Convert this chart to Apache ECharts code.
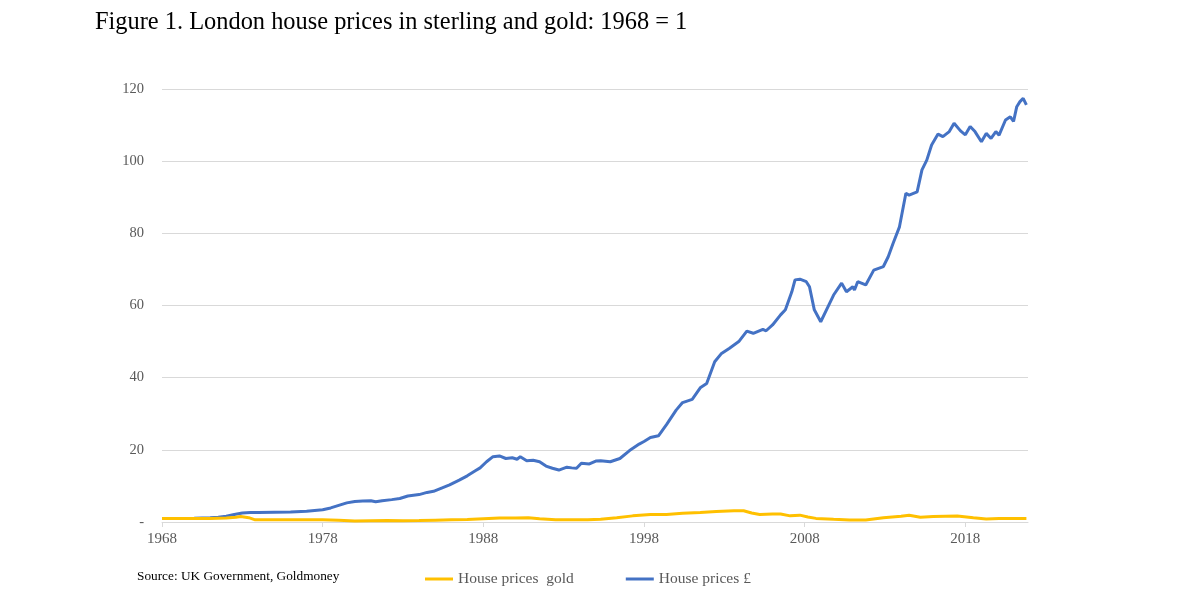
<!DOCTYPE html>
<html>
<head>
<meta charset="utf-8">
<script src="https://cdn.jsdelivr.net/npm/echarts@6/dist/echarts.min.js"></script>
<style>
  html, body { margin: 0; padding: 0; background: #fff; }
  #chart { width: 1200px; height: 593px; }
</style>
</head>
<body>
<div id="chart"></div>
<script>
// house prices in sterling, 1968 = 1
var sterlingYears = [1968.0, 1969.0, 1970.0, 1971.0, 1971.5, 1972.0, 1972.5, 1973.0, 1973.5, 1974.0, 1975.0, 1976.0, 1977.0,
  1978.0, 1978.5, 1979.0, 1979.5, 1980.0, 1980.5, 1981.0, 1981.3, 1981.7, 1982.3, 1982.8, 1983.3, 1984.0, 1984.5, 1984.9,
  1985.4, 1985.9, 1986.5, 1987.0, 1987.5, 1987.8, 1988.2, 1988.6, 1989.0, 1989.4, 1989.8, 1990.1, 1990.3, 1990.7, 1991.1,
  1991.5, 1991.9, 1992.3, 1992.7, 1993.2, 1993.5, 1993.8, 1994.1, 1994.6, 1995.0, 1995.3, 1995.9, 1996.5, 1997.1, 1997.7,
  1998.0, 1998.4, 1998.9, 1999.4, 2000.0, 2000.4, 2001.0, 2001.5, 2001.9, 2002.4, 2002.8, 2003.3, 2003.9, 2004.4, 2004.8,
  2005.4, 2005.6, 2006.0, 2006.5, 2006.8, 2007.2, 2007.4, 2007.7, 2008.1, 2008.3, 2008.6, 2009.0, 2009.5, 2009.8, 2010.3,
  2010.6, 2011.0, 2011.1, 2011.3, 2011.8, 2012.3, 2012.9, 2013.2, 2013.5, 2013.9, 2014.3, 2014.5, 2015.0, 2015.3, 2015.6,
  2015.9, 2016.3, 2016.6, 2017.0, 2017.3, 2017.7, 2018.0, 2018.3, 2018.6, 2019.0, 2019.3, 2019.6, 2019.9, 2020.1, 2020.5,
  2020.8, 2021.0, 2021.2, 2021.4, 2021.6, 2021.8];
var sterlingValues = [1.0, 1.0, 1.05, 1.15, 1.3, 1.6, 2.1, 2.5, 2.6, 2.6, 2.7, 2.8, 3.0,
  3.4, 3.9, 4.6, 5.3, 5.7, 5.8, 5.9, 5.6, 5.9, 6.2, 6.5, 7.2, 7.6, 8.2, 8.5,
  9.4, 10.3, 11.6, 12.8, 14.2, 15.0, 16.7, 18.1, 18.3, 17.6, 17.8, 17.4, 18.1, 17.0, 17.1,
  16.7, 15.5, 14.9, 14.4, 15.2, 15.0, 14.9, 16.3, 16.1, 16.9, 17.0, 16.7, 17.6, 19.8, 21.6,
  22.3, 23.4, 23.9, 27.0, 31.0, 33.1, 34.0, 37.2, 38.4, 44.4, 46.6, 48.1, 50.0, 52.9, 52.3,
  53.4, 53.0, 54.6, 57.4, 58.8, 63.8, 67.1, 67.3, 66.6, 65.2, 58.8, 55.5, 60.1, 62.9, 66.2,
  63.8, 65.2, 64.3, 66.6, 65.7, 69.8, 70.8, 73.5, 77.2, 81.8, 91.1, 90.6, 91.5, 97.6, 100.3,
  104.5, 107.5, 106.8, 108.2, 110.5, 108.4, 107.3, 109.6, 108.2, 105.4, 107.7, 106.3, 108.2, 107.2, 111.4,
  112.3, 111.0, 115.1, 116.5, 117.4, 115.6];

// house prices in gold, 1968 = 1
var goldYears = [1968.0, 1970.0, 1971.0, 1972.0, 1972.6, 1972.9, 1973.4, 1973.8, 1975.0, 1976.5, 1978.0, 1979.0, 1980.0,
  1981.0, 1982.0, 1983.0, 1984.0, 1985.0, 1986.0, 1987.0, 1988.0, 1989.0, 1990.0, 1990.8, 1991.5, 1992.5, 1993.5, 1994.5,
  1995.3, 1996.3, 1997.3, 1998.4, 1999.4, 2000.4, 2001.5, 2002.5, 2003.6, 2004.2, 2004.7, 2005.2, 2006.0, 2006.5, 2007.1,
  2007.7, 2008.2, 2008.7, 2009.8, 2010.8, 2011.8, 2012.9, 2014.0, 2014.5, 2015.2, 2016.0, 2017.5, 2018.5, 2019.3, 2020.1,
  2021.0, 2021.8];
var goldValues = [1.0, 1.0, 1.0, 1.1, 1.3, 1.5, 1.2, 0.6, 0.6, 0.65, 0.6, 0.5, 0.3,
  0.35, 0.4, 0.35, 0.4, 0.5, 0.6, 0.7, 0.9, 1.1, 1.1, 1.2, 0.9, 0.6, 0.6, 0.65,
  0.75, 1.2, 1.7, 2.1, 2.1, 2.4, 2.6, 2.9, 3.1, 3.1, 2.5, 2.1, 2.2, 2.2, 1.7,
  1.9, 1.4, 1.0, 0.75, 0.55, 0.55, 1.2, 1.6, 1.85, 1.3, 1.5, 1.65, 1.2, 0.85, 1.0,
  1.0, 1.0];

var xTicks = [1968, 1978, 1988, 1998, 2008, 2018];

function pairs(xs, ys) {
  return xs.map(function (x, i) { return [x, ys[i]]; });
}

var chart = echarts.init(document.getElementById('chart'));

var serif = '"Liberation Serif", "DejaVu Serif", serif';

var option = {
  animation: false,
  textStyle: { fontFamily: serif },
  title: [{
    text: 'Figure 1. London house prices in sterling and gold: 1968 = 1',
    left: 90,
    top: 6,
    textStyle: { fontFamily: serif, fontSize: 24.4, fontWeight: 'normal', color: '#000' }
  }, {
    text: 'Source: UK Government, Goldmoney',
    left: 132,
    top: 565,
    textStyle: { fontFamily: serif, fontSize: 13.3, fontWeight: 'normal', color: '#000' }
  }],
  legend: {
    left: 420,
    top: 566,
    itemWidth: 28,
    itemHeight: 3,
    itemGap: 52,
    icon: 'rect',
    textStyle: { fontFamily: serif, fontSize: 15.5, color: '#595959' },
    data: ['House prices  gold', 'House prices £']
  },
  grid: { left: 162, right: 172, top: 89, bottom: 71 },
  xAxis: {
    type: 'value',
    min: 1968,
    max: 2021.9,
    splitLine: { show: false },
    axisLine: { show: true, lineStyle: { color: '#d9d9d9', width: 1 } },
    axisTick: { show: true, customValues: xTicks, length: 5, lineStyle: { color: '#d9d9d9' } },
    axisLabel: { customValues: xTicks, color: '#595959', fontSize: 15, margin: 10, fontFamily: serif,
      formatter: function (v) { return String(v); } }
  },
  yAxis: {
    type: 'value',
    min: 0,
    max: 120,
    interval: 20,
    axisLine: { show: false },
    axisTick: { show: false },
    splitLine: { lineStyle: { color: '#d9d9d9', width: 1 } },
    axisLabel: { color: '#595959', fontSize: 14.5, margin: 18, fontFamily: serif,
      formatter: function (v) { return v === 0 ? '-' : String(v); } }
  },
  series: [{
    name: 'House prices  gold',
    type: 'line',
    showSymbol: false,
    itemStyle: { color: '#FFC000' },
    lineStyle: { color: '#FFC000', width: 3 },
    data: pairs(goldYears, goldValues),
    z: 3
  }, {
    name: 'House prices £',
    type: 'line',
    showSymbol: false,
    itemStyle: { color: '#4472C4' },
    lineStyle: { color: '#4472C4', width: 3 },
    data: pairs(sterlingYears, sterlingValues),
    z: 2
  }]
};

chart.setOption(option);
</script>
</body>
</html>
